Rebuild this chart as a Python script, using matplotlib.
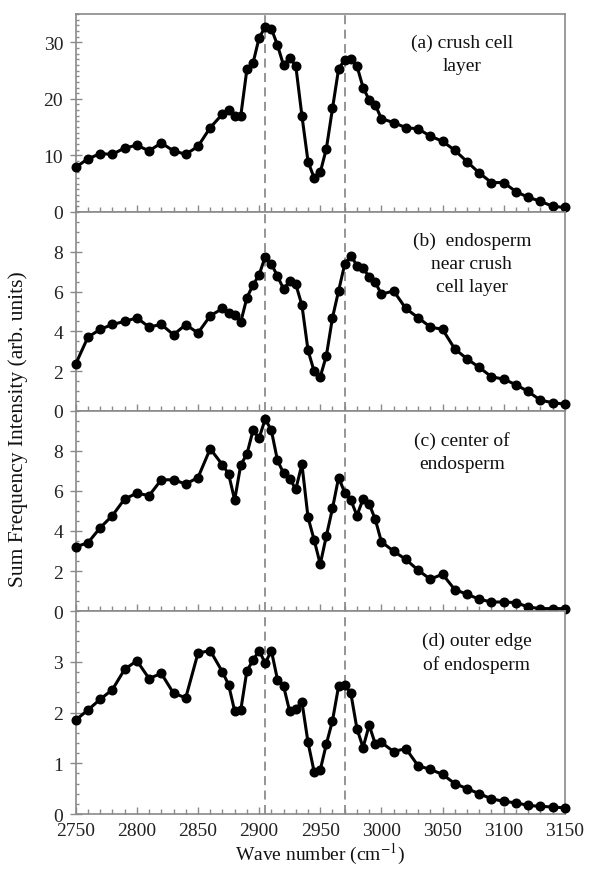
import numpy as np
import matplotlib
matplotlib.use("Agg")
from matplotlib import pyplot as plt
from matplotlib.ticker import MultipleLocator

plt.rcParams['font.family'] = ['Liberation Serif', 'DejaVu Serif']
plt.rcParams['mathtext.fontset'] = 'stix'

# wave numbers (cm-1), shared by all four spectra
wavenumber = [2750, 2760, 2770, 2780, 2790, 2800, 2810, 2820, 2830, 2840, 2850,
              2860, 2870, 2875, 2880, 2885, 2890, 2895, 2900, 2905, 2910, 2915,
              2920, 2925, 2930, 2935, 2940, 2945, 2950, 2955, 2960, 2965, 2970,
              2975, 2980, 2985, 2990, 2995, 3000, 3010, 3020, 3030, 3040, 3050,
              3060, 3070, 3080, 3090, 3100, 3110, 3120, 3130, 3140, 3150]

crush_cell = [7.9, 9.4, 10.3, 10.2, 11.3, 11.8, 10.8, 12.2, 10.8, 10.2, 11.6,
              14.9, 17.3, 18.1, 16.9, 17.0, 25.2, 26.3, 30.8, 32.7, 32.4, 29.5,
              25.9, 27.3, 25.8, 17.0, 8.9, 6.0, 7.0, 11.2, 18.3, 25.3, 26.9,
              27.0, 25.8, 22.0, 19.8, 18.9, 16.5, 15.8, 14.9, 14.7, 13.4, 12.5,
              10.9, 8.9, 6.9, 5.2, 5.2, 3.6, 2.6, 1.9, 1.0, 0.8]

near_crush = [2.36, 3.71, 4.1, 4.35, 4.5, 4.68, 4.22, 4.35, 3.83, 4.34, 3.92,
              4.78, 5.15, 4.9, 4.84, 4.47, 5.69, 6.33, 6.84, 7.76, 7.39, 6.78,
              6.13, 6.53, 6.36, 5.32, 3.04, 1.99, 1.72, 2.78, 4.69, 6.04, 7.38,
              7.81, 7.31, 7.17, 6.75, 6.46, 5.87, 6.03, 5.15, 4.69, 4.22, 4.1,
              3.12, 2.62, 2.19, 1.72, 1.6, 1.32, 0.98, 0.54, 0.42, 0.34]

center = [3.21, 3.41, 4.16, 4.77, 5.60, 5.89, 5.77, 6.56, 6.56, 6.35, 6.67,
          8.11, 7.31, 6.86, 5.55, 7.31, 7.84, 9.03, 8.65, 9.6, 9.03, 7.53,
          6.89, 6.61, 6.09, 7.34, 4.68, 3.55, 2.34, 3.76, 5.13, 6.67, 5.92,
          5.55, 4.77, 5.60, 5.35, 4.58, 3.46, 2.99, 2.58, 2.04, 1.59, 1.84,
          1.07, 0.84, 0.59, 0.45, 0.45, 0.42, 0.2, 0.12, 0.12, 0.12]

outer_edge = [1.85, 2.05, 2.26, 2.45, 2.85, 3.02, 2.67, 2.77, 2.38, 2.29, 3.17,
              3.22, 2.80, 2.55, 2.03, 2.05, 2.82, 3.03, 3.22, 2.97, 3.22, 2.65,
              2.52, 2.02, 2.07, 2.21, 1.41, 0.83, 0.87, 1.38, 1.84, 2.52, 2.55,
              2.38, 1.68, 1.31, 1.75, 1.38, 1.41, 1.23, 1.29, 0.95, 0.88, 0.78,
              0.60, 0.50, 0.40, 0.30, 0.25, 0.22, 0.17, 0.15, 0.14, 0.12]

series = [crush_cell, near_crush, center, outer_edge]
labels = ["(a) crush cell\nlayer",
          "(b)  endosperm\nnear crush\ncell layer",
          "(c) center of\nendosperm",
          "(d) outer edge\nof endosperm"]
ylims = [35, 10, 10, 4]
yticks = [[0, 10, 20, 30], [0, 2, 4, 6, 8], [0, 2, 4, 6, 8], [0, 1, 2, 3]]
yminor = [1, 0.5, 0.5, 0.2]
label_x = [0.79, 0.81, 0.79, 0.82]
dash_lines = [2905, 2970]

spine_col = "#8a8a8a"

fig = plt.figure(figsize=(6.08, 8.70), dpi=100)
gs = fig.add_gridspec(4, 1, left=0.1245, right=0.929, bottom=0.0632, top=0.9828,
                      hspace=0, height_ratios=[198, 199, 200, 203])

for i, ys in enumerate(series):
    ax = fig.add_subplot(gs[i])
    for xv in dash_lines:
        ax.axvline(xv, color="#8c8c8c", lw=1.3, ls=(0, (5, 3)), zorder=1)
    ax.plot(wavenumber, ys, color="black", lw=2.2, marker="o", ms=6.2,
            markerfacecolor="black", markeredgecolor="black", zorder=3,
            clip_on=False)
    ax.set_xlim(2750, 3150)
    ax.set_ylim(0, ylims[i])
    ax.xaxis.set_major_locator(MultipleLocator(50))
    ax.xaxis.set_minor_locator(MultipleLocator(10))
    ax.set_yticks(yticks[i])
    ax.yaxis.set_minor_locator(MultipleLocator(yminor[i]))
    ax.tick_params(which="both", direction="in", color=spine_col,
                   labelsize=14, labelcolor="#222222", width=1)
    ax.tick_params(axis="x", which="major", length=5, pad=6)
    ax.tick_params(axis="x", which="minor", length=3.5)
    ax.tick_params(axis="y", which="major", direction="inout", length=8, pad=5)
    ax.tick_params(axis="y", which="minor", length=2.5)
    for sp in ax.spines.values():
        sp.set_color(spine_col)
        sp.set_linewidth(1.2)
    if i < 3:
        ax.tick_params(axis="x", labelbottom=False)
    ax.text(label_x[i], 0.9, labels[i], transform=ax.transAxes, ha="center",
            va="top", fontsize=14, linespacing=1.45, color="#111111")

fig.text(0.03, 0.507, "Sum Frequency Intensity (arb. units)", rotation=90,
         ha="center", va="center", fontsize=15.5, color="#111111")
fig.text(0.527, 0.018, "Wave number (cm$^{-1}$)", ha="center", va="center",
         fontsize=14, color="#111111")

fig.savefig("out.png", dpi=100)
